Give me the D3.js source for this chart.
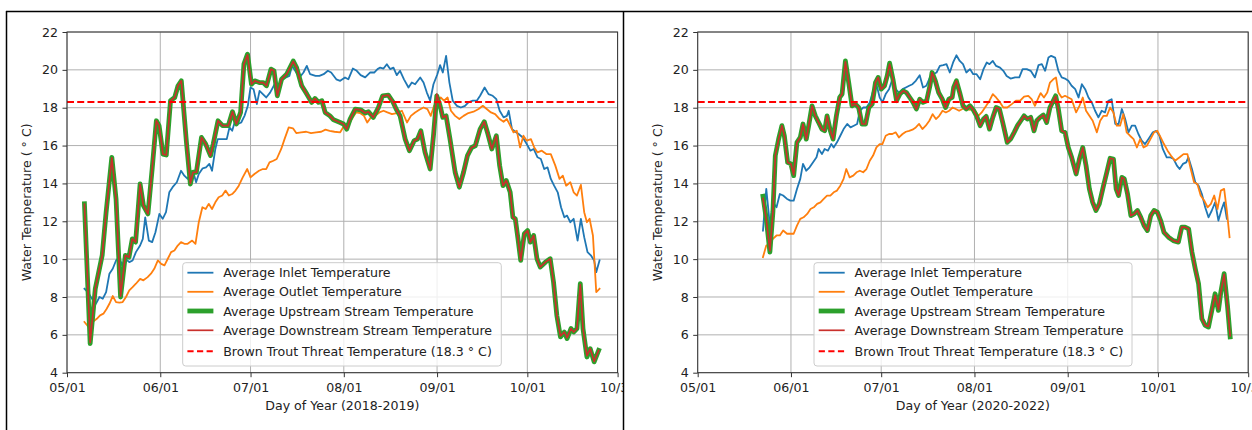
<!DOCTYPE html>
<html><head><meta charset="utf-8">
<script src="https://cdn.jsdelivr.net/npm/d3@7/dist/d3.min.js"></script>
<style>body{margin:0;background:#fff;overflow:hidden} text{font-family:"DejaVu Sans",sans-serif;fill:#222}</style>
</head><body><svg id="c" width="1252" height="430"></svg>
<script>
// ---- data (day offsets since May 1, temperature in °C) ----
const xTickDays = [0, 31, 61, 92, 123, 153, 183];
const xTickLabels = ["05/01", "06/01", "07/01", "08/01", "09/01", "10/01", "10/31"];
const yTicks = [4, 6, 8, 10, 12, 14, 16, 18, 20, 22];
const threshold = 18.3;
const xAxisLabels = ["Day of Year (2018-2019)", "Day of Year (2020-2022)"];
const yAxisLabel = "Water Temperature ( ° C)";
const legendLabels = ["Average Inlet Temperature", "Average Outlet Temperature", "Average Upstream Stream Temperature", "Average Downstream Stream Temperature", "Brown Trout Threat Temperature (18.3 ° C)"];

const inlet1 = [[5.8,8.44],[6.9,8.26],[8.3,7.91],[9.6,7.64],[10.8,8.0],[11.9,7.91],[13,8.26],[14.1,9.23],[15.2,9.49],[16.3,9.93],[17.4,10.1],[18.3,9.67],[19.4,10.02],[20.7,9.84],[21.8,9.93],[22.9,10.37],[24.3,10.72],[25.2,11.07],[26,12.21],[27.2,10.98],[28.3,10.9],[29.4,11.42],[30.7,12.39],[31.8,12.13],[32.9,12.48],[34,13.53],[35.1,13.8],[36.5,14.06],[37.9,14.67],[39,14.41],[40.1,14.24],[41.2,14.59],[42,14.59],[42.9,14.06],[43.8,14.5],[45.1,14.8],[46.2,14.85],[47.3,15.03],[48.2,14.67],[49.3,15.82],[50.1,16.34],[51.8,16.34],[53.1,16.34],[54,16.96],[54.9,16.78],[55.7,17.22],[56.8,17.14],[57.9,17.22],[59,17.57],[60.1,18.1],[61,19.07],[62,18.98],[63.1,18.19],[64,18.89],[65.1,18.72],[66.2,18.54],[67.5,18.8],[69,19.24],[70.1,19.07],[71.2,19.5],[72.8,19.6],[73.9,19.68],[74.8,20.21],[76.2,19.86],[77.3,19.6],[78.6,19.86],[79.7,20.21],[80.8,19.77],[82.6,19.68],[83.9,19.68],[85.3,19.77],[86.7,19.95],[87.8,19.86],[89.5,19.5],[90.8,19.42],[92.4,19.6],[93.5,19.5],[95,20.07],[96.3,19.95],[97.6,19.72],[99.1,19.6],[100.7,19.86],[102.1,19.86],[103.2,20.04],[104.1,20.12],[105.2,20.07],[106.3,20.3],[107.4,20.04],[108.5,20.12],[109.6,19.72],[110.7,19.95],[112,19.5],[113.5,19.07],[114.6,19.33],[115.7,19.24],[117.4,19.6],[118.5,19.33],[119.6,18.8],[120.7,18.37],[121.8,19.24],[123.1,19.77],[124,20.25],[124.9,19.86],[126,20.74],[127.1,19.33],[128.2,18.37],[129.6,18.1],[130.9,18.01],[132.3,18.1],[133.4,18.28],[134.9,18.37],[136.2,18.37],[137.3,18.63],[138.8,19.07],[140.1,18.72],[141.5,18.63],[142.7,18.45],[143.8,17.84],[145.1,17.49],[146.2,17.57],[146.8,17.84],[147.9,16.87],[149,16.73],[150.1,16.61],[151.5,16.43],[152.8,16.08],[154,15.73],[155.1,15.82],[156.4,15.38],[157.5,15.29],[158.6,14.76],[159.7,14.85],[160.8,14.24],[161.9,13.88],[163.1,13.53],[164.2,12.74],[165.3,12.21],[166.2,12.3],[167.3,11.95],[168.4,12.13],[169.7,10.98],[170.8,12.13],[171.9,11.16],[173,10.37],[174.1,10.2],[175.2,9.93],[175.9,9.31],[177,9.93]];
const outlet1 = [[5.8,6.68],[7.2,6.41],[8.5,6.68],[9.9,6.85],[11,7.03],[12.1,7.12],[13.2,7.38],[14.1,7.64],[15.2,8.05],[16.3,7.73],[17.4,7.7],[18.5,7.73],[19.6,8.0],[20.7,8.35],[21.8,8.52],[22.9,8.7],[24.3,8.96],[25.4,8.88],[26.8,9.05],[27.9,9.23],[29,9.49],[30.2,9.93],[31.3,9.75],[32.4,9.67],[33.5,10.02],[34.6,10.37],[35.7,10.46],[36.8,10.72],[37.9,10.9],[39,10.81],[40.1,10.81],[41.6,10.98],[42.7,10.81],[43.8,11.95],[45,12.74],[46.1,12.65],[47.1,12.92],[48.2,12.65],[49.3,13.0],[50.4,13.27],[51.6,13.36],[52.7,13.62],[53.8,13.36],[54.9,13.44],[56,13.62],[57.1,13.88],[58.4,14.32],[59.9,14.76],[61,14.32],[62.3,14.5],[63.8,14.67],[65.1,14.76],[66.2,14.76],[67.3,15.11],[68.6,15.2],[69.7,15.29],[71.2,15.82],[72.3,16.34],[73.7,16.96],[75.1,16.91],[76.2,16.66],[77.8,16.7],[79.5,16.73],[81.1,16.66],[82.8,16.7],[84.5,16.73],[85.9,16.84],[87.3,16.78],[88.9,16.73],[90.8,16.7],[92.1,17.05],[93.5,17.05],[95,17.49],[96.1,17.75],[97.4,17.72],[98.7,17.57],[99.8,17.22],[101,17.49],[102.4,17.57],[103.8,17.75],[105.2,17.84],[106.5,17.75],[108,17.66],[109.6,17.72],[111.3,17.84],[113,17.22],[114.3,17.57],[115.7,17.75],[117.1,17.89],[118.5,18.01],[119.8,17.93],[120.9,17.57],[122,18.1],[123.1,18.37],[124.2,18.54],[125.3,18.37],[126.5,18.54],[127.6,17.84],[129,17.57],[130.4,17.4],[131.8,17.57],[133.4,17.72],[135.1,17.79],[136.8,17.93],[138.2,18.1],[139.5,17.93],[140.9,17.75],[142.3,17.66],[143.8,17.4],[145.1,17.26],[146.2,17.4],[147.3,17.05],[148.4,16.7],[149.5,16.78],[150.6,15.9],[151.7,16.52],[152.8,16.26],[154.2,16.34],[155.3,15.9],[156.4,15.64],[157.8,15.73],[159.3,15.55],[160.8,15.55],[162.3,14.94],[163.7,14.24],[164.8,14.41],[165.9,13.88],[167.3,14.06],[168.4,13.53],[169.5,13.36],[170.8,13.92],[171.9,12.48],[172.8,11.95],[173.7,12.13],[174.8,11.25],[175.9,8.26],[177,8.44]];
const upstream1 = [[5.8,12.92],[7.7,5.54],[9.4,8.44],[11.7,10.2],[13,12.48],[14.9,15.38],[16.3,13.18],[17.8,8.0],[19.4,10.2],[20.6,10.1],[21.7,11.07],[22.8,10.9],[24.3,13.97],[25.4,12.83],[26.9,12.39],[28.3,14.76],[29.7,17.31],[30.6,17.05],[31.9,15.55],[33,15.5],[34.4,18.37],[35.8,18.54],[36.9,19.16],[38,19.42],[39.7,16.17],[41,13.97],[41.9,14.59],[43,14.59],[44.7,16.43],[46.1,16.08],[47.7,15.47],[48.6,16.08],[50.2,17.31],[51.7,17.05],[53.6,17.05],[55,17.79],[56.3,17.14],[57.7,17.75],[58.8,20.3],[60,20.83],[61.3,19.24],[62.4,19.42],[63.9,19.33],[65.2,19.33],[66.3,19.16],[67.8,20.04],[68.8,19.95],[69.9,18.63],[71.3,19.5],[73,19.77],[75.2,20.47],[76.3,20.12],[78,19.16],[79.7,18.72],[81.3,18.28],[82.4,18.49],[83.6,18.28],[84.7,18.37],[85.8,17.75],[87.4,17.57],[88.6,17.36],[90.8,17.22],[91.9,17.14],[93,16.87],[94.1,17.4],[95.8,17.93],[97.6,17.89],[99.1,17.72],[100.2,17.79],[101.8,17.49],[103.5,18.01],[104.9,18.63],[106.8,18.66],[108.3,18.31],[109.4,17.93],[110.7,17.57],[112.4,16.34],[113.8,15.73],[115.4,16.26],[116.5,16.34],[117.6,16.78],[119,15.64],[120.7,14.76],[121.8,16.52],[122.9,18.63],[124,18.1],[124.9,17.49],[126,17.57],[127.3,16.34],[129,14.59],[130.4,13.8],[131.8,14.59],[133.1,15.47],[134.5,15.9],[135.7,15.99],[137.3,16.87],[138.7,17.26],[139.9,16.61],[141.2,15.82],[142.7,16.52],[143.8,14.94],[144.9,13.88],[146,14.15],[147.3,13.53],[148.2,12.21],[149,12.13],[149.9,11.07],[150.8,9.93],[152,11.34],[153.1,11.51],[154,10.9],[155.1,11.25],[156.2,10.02],[157.3,9.58],[159,9.84],[160.6,10.02],[161.7,8.79],[162.8,7.03],[164,5.89],[165.3,6.15],[166.2,5.8],[167.5,6.33],[168.4,6.15],[169.5,6.33],[170.6,8.7],[171.5,6.33],[172.8,4.83],[173.9,5.27],[175.2,4.57],[176.7,5.18]];
const downstream1 = [[5.8,12.9],[7.7,5.6],[9.4,8.44],[11.7,10.2],[13,12.48],[14.9,15.35],[16.3,13.18],[17.8,8.05],[19.4,10.2],[20.6,10.1],[21.7,11.07],[22.8,10.9],[24.3,13.97],[25.4,12.83],[26.9,12.39],[28.3,14.76],[29.7,17.31],[30.6,17.05],[31.9,15.55],[33,15.5],[34.4,18.37],[35.8,18.54],[36.9,19.16],[38,19.42],[39.7,16.17],[41,14.0],[41.9,14.59],[43,14.59],[44.7,16.43],[46.1,16.08],[47.7,15.47],[48.6,16.08],[50.2,17.31],[51.7,17.05],[53.6,17.05],[55,17.79],[56.3,17.14],[57.7,17.75],[58.8,20.3],[60,20.8],[61.3,19.24],[62.4,19.42],[63.9,19.33],[65.2,19.33],[66.3,19.16],[67.8,20.04],[68.8,19.95],[69.9,18.63],[71.3,19.5],[73,19.77],[75.2,20.45],[76.3,20.12],[78,19.16],[79.7,18.72],[81.3,18.28],[82.4,18.49],[83.6,18.28],[84.7,18.37],[85.8,17.75],[87.4,17.57],[88.6,17.36],[90.8,17.22],[91.9,17.14],[93,16.87],[94.1,17.4],[95.8,17.93],[97.6,17.89],[99.1,17.72],[100.2,17.79],[101.8,17.49],[103.5,18.01],[104.9,18.63],[106.8,18.66],[108.3,18.31],[109.4,17.93],[110.7,17.57],[112.4,16.34],[113.8,15.73],[115.4,16.26],[116.5,16.34],[117.6,16.78],[119,15.64],[120.7,14.76],[121.8,16.52],[122.9,18.72],[124,18.1],[124.9,17.49],[126,17.57],[127.3,16.34],[129,14.59],[130.4,13.8],[131.8,14.59],[133.1,15.47],[134.5,15.9],[135.7,15.99],[137.3,16.87],[138.7,17.26],[139.9,16.61],[141.2,15.82],[142.7,16.52],[143.8,14.94],[144.9,13.88],[146,14.15],[147.3,13.53],[148.2,12.21],[149,12.13],[149.9,11.07],[150.8,9.93],[152,11.34],[153.1,11.51],[154,10.9],[155.1,11.25],[156.2,10.02],[157.3,9.58],[159,9.84],[160.6,10.02],[161.7,8.79],[162.8,7.03],[164,5.95],[165.3,6.15],[166.2,5.85],[167.5,6.33],[168.4,6.15],[169.5,6.33],[170.6,8.65],[171.5,6.33],[172.8,4.9],[173.9,5.27],[175.2,4.6],[176.7,5.18]];

const inlet2 = [[21.7,11.51],[22.8,13.71],[24,11.77],[25,13.0],[26.2,12.74],[27.3,13.44],[28.4,13.36],[29.7,13.18],[30.8,13.09],[31.9,13.09],[33,13.71],[34.1,14.24],[35,15.03],[36.1,14.67],[37.2,14.85],[38.3,15.11],[39.5,15.38],[40.2,15.82],[41.3,15.55],[42.2,15.82],[43.3,15.73],[44.4,16.08],[45.2,15.9],[46.3,16.17],[47.4,16.52],[48.5,16.87],[49.7,17.14],[50.8,16.96],[51.9,17.05],[53,17.14],[53.9,17.84],[55,18.01],[56.1,18.01],[57.2,18.28],[58.3,18.89],[59.4,19.24],[60.5,18.54],[61.4,18.28],[62.5,18.72],[63.6,18.98],[64.7,19.5],[65.8,18.98],[66.9,18.8],[68.1,18.98],[69.2,19.07],[70.3,19.16],[71.4,19.24],[72.5,19.42],[73.8,19.72],[74.9,19.07],[76,19.16],[77.2,19.6],[78.3,19.77],[79.4,19.86],[80.5,20.21],[81.6,20.25],[82.7,20.3],[83.8,19.86],[84.9,20.39],[86,20.77],[87.1,20.47],[88.2,20.3],[89.3,19.86],[90.5,20.04],[91.6,19.77],[92.7,19.77],[93.9,19.5],[95,20.04],[96.1,20.39],[97,20.3],[98.1,20.47],[99.2,20.21],[100.5,20.12],[101.6,19.95],[102.7,19.68],[104,19.54],[105.5,19.6],[106.9,19.6],[108,20.04],[109.4,20.04],[110.7,19.95],[112.1,19.6],[113.3,20.25],[114.4,20.3],[115.5,19.95],[116.6,20.65],[117.5,20.74],[118.8,20.65],[119.9,19.95],[121,19.6],[122.1,19.54],[123.2,19.42],[124.3,19.16],[125.5,18.98],[126.6,18.54],[127.7,19.24],[128.8,18.98],[129.9,18.54],[131,18.28],[132.1,17.84],[133.2,17.49],[134.3,17.84],[135.4,17.75],[136.5,18.37],[137.6,18.45],[138.8,17.14],[139.9,17.14],[141,17.93],[142.1,17.4],[143.2,16.7],[144.3,17.05],[145.4,17.05],[146.5,16.61],[147.6,16.26],[148.7,16.08],[149.8,16.34],[151.3,16.7],[152.4,16.78],[153.5,16.52],[154.6,15.82],[155.9,15.38],[157,15.38],[158.2,15.29],[159.3,14.94],[160.2,14.76],[161.3,15.03],[162.4,15.11],[163.1,15.38],[164.3,14.76],[165.4,14.06],[166.5,13.88],[167.6,13.44],[168.7,12.74],[169.8,12.21],[170.9,12.57],[172,13.0],[173.1,12.04],[174.2,12.65],[175,13.0],[175.9,12.13]];
const outlet2 = [[21.7,10.11],[22.8,10.72],[24,10.81],[25,11.07],[26.2,11.25],[27.3,11.25],[28.4,11.51],[29.7,11.34],[30.8,11.34],[31.9,11.34],[33,11.77],[34.1,12.13],[35.2,12.21],[36.4,12.39],[37.5,12.65],[38.6,12.74],[39.7,12.92],[40.8,13.0],[41.9,13.18],[43,13.36],[44.1,13.36],[45.2,13.53],[46.3,13.62],[47.4,13.88],[48.5,14.24],[49.4,14.76],[50.5,14.32],[51.7,14.41],[52.8,14.59],[53.9,14.67],[55,14.59],[56.1,14.76],[57.2,15.2],[58.3,15.47],[59.4,15.9],[60.5,16.08],[61.4,16.08],[62.5,16.52],[63.6,16.61],[64.7,16.61],[65.8,16.7],[66.9,16.43],[68.1,16.61],[69.2,16.73],[70.3,16.78],[71.4,16.84],[72.5,16.96],[73.6,17.14],[74.7,16.87],[75.8,17.05],[77,17.31],[78.1,17.66],[79.2,17.4],[80.3,17.57],[81.4,17.84],[82.5,17.75],[83.6,17.84],[84.7,18.01],[85.8,17.93],[86.9,17.84],[88,17.93],[89.1,18.01],[90.2,17.89],[91.9,17.93],[93.3,17.57],[94.4,17.75],[95.9,18.1],[97,18.37],[98.1,18.72],[99.2,18.54],[100.5,18.28],[101.6,18.01],[102.9,18.01],[104.4,18.19],[105.8,18.37],[107.2,18.37],[108.5,18.59],[109.9,18.63],[111,18.45],[112.1,18.1],[113.3,18.54],[114,18.77],[115.1,18.54],[116.2,18.8],[117.1,19.33],[118.2,19.5],[119.1,19.6],[119.9,18.8],[121,18.54],[122.1,18.63],[123.2,18.54],[124.3,18.45],[125.8,17.75],[126.9,18.1],[128,18.54],[129.1,17.84],[130.2,17.57],[131.3,17.31],[132.7,16.7],[133.8,17.31],[134.9,17.57],[136,17.57],[137.1,18.01],[138.2,17.75],[139.3,17.05],[140.4,17.05],[141.5,17.66],[142.6,16.7],[143.7,16.52],[144.9,16.34],[146,15.9],[147.1,16.34],[148.2,15.9],[149.3,15.99],[150.5,16.34],[151.7,16.7],[152.8,16.78],[153.9,16.43],[155,16.08],[156.2,15.73],[157.3,15.47],[158.7,15.2],[160.2,15.38],[161.5,15.55],[162.8,15.55],[163.9,14.76],[165,14.06],[166.1,13.97],[167.2,13.36],[168.4,13.09],[169.5,12.74],[170.6,12.92],[171.7,13.36],[172.8,12.65],[173.9,13.62],[175,13.71],[175.9,12.57],[176.8,11.16]];
const upstream2 = [[21.7,13.32],[22.8,12.13],[24,10.37],[25,12.48],[25.8,15.47],[26.9,16.34],[28,17.05],[28.8,16.52],[29.9,15.11],[31,15.03],[31.9,14.41],[33,16.17],[34.1,16.43],[35,17.14],[36.1,16.34],[36.9,17.05],[38,18.1],[39.1,17.57],[40.2,17.22],[41.3,16.87],[42.2,16.78],[43,17.57],[44.1,16.78],[45,16.34],[46.1,17.57],[47.2,18.54],[48,18.72],[49.1,20.47],[50.2,19.33],[51.3,18.1],[52.4,18.19],[53.5,18.01],[54.6,17.14],[55.8,17.14],[56.9,18.01],[58,18.19],[59.1,19.33],[60,19.6],[61,18.98],[62.1,19.16],[63,19.68],[63.8,20.35],[65,19.42],[66.1,18.37],[67.2,18.72],[68.3,18.89],[69.4,18.8],[70.5,18.54],[71.6,18.28],[72.7,17.93],[73.8,18.45],[74.9,18.28],[76.1,18.37],[77.2,19.16],[77.9,19.86],[79,19.42],[80.1,18.8],[81.3,18.45],[82.4,18.01],[83.5,18.45],[84.6,18.54],[85.1,19.07],[86,19.42],[87.1,18.8],[88.2,18.1],[89.3,17.93],[90.5,18.1],[91.6,17.89],[92.7,17.57],[93.9,17.05],[95,17.4],[95.9,17.54],[97,16.87],[98.1,17.49],[99.2,18.01],[100.3,17.93],[101.4,17.22],[102.9,16.17],[104,16.34],[105.2,16.7],[106.3,17.05],[107.4,17.31],[108.5,17.57],[109.6,17.4],[110.7,17.49],[111.8,16.78],[112.7,17.31],[113.8,17.49],[114.9,17.61],[116,17.22],[117.1,18.01],[118.2,18.37],[119,18.63],[119.9,17.93],[121,16.78],[122.1,16.7],[123.2,15.9],[124.3,15.38],[125.8,14.5],[126.9,15.29],[128,15.9],[129.1,14.94],[130.2,13.71],[131.3,13.0],[132.4,12.57],[133.5,12.92],[134.9,13.88],[136,14.59],[137.1,15.33],[138.2,15.29],[139.1,13.71],[139.9,13.36],[141,14.32],[141.8,14.24],[142.9,13.44],[144,12.3],[145.1,12.39],[146.2,12.57],[147.3,12.21],[148.4,11.77],[149.5,11.51],[150.6,12.3],[151.7,12.57],[152.8,12.48],[153.9,12.04],[155,11.42],[156.5,11.16],[158.1,10.98],[159.8,10.9],[160.9,11.69],[162,11.69],[163.2,11.6],[164.3,10.37],[165.4,9.49],[166.5,8.7],[167.6,6.85],[168.7,6.5],[169.8,6.41],[170.9,7.29],[172,8.17],[173.1,7.29],[173.9,8.26],[175,9.23],[176.1,7.56],[177,5.89]];
const downstream2 = [[21.7,13.2],[22.8,12.1],[24,10.45],[25,12.48],[25.8,15.47],[26.9,16.34],[28,17.05],[28.8,16.52],[29.9,15.11],[31,15.03],[31.9,14.45],[33,16.17],[34.1,16.43],[35,17.14],[36.1,16.34],[36.9,17.05],[38,18.1],[39.1,17.57],[40.2,17.22],[41.3,16.87],[42.2,16.78],[43,17.57],[44.1,16.78],[45,16.34],[46.1,17.57],[47.2,18.54],[48,18.72],[49.1,20.42],[50.2,19.33],[51.3,18.1],[52.4,18.19],[53.5,18.01],[54.6,17.14],[55.8,17.14],[56.9,18.01],[58,18.19],[59.1,19.33],[60,19.6],[61,18.98],[62.1,19.16],[63,19.68],[63.8,20.3],[65,19.42],[66.1,18.37],[67.2,18.72],[68.3,18.89],[69.4,18.8],[70.5,18.54],[71.6,18.28],[72.7,17.93],[73.8,18.45],[74.9,18.28],[76.1,18.37],[77.2,19.16],[77.9,19.86],[79,19.42],[80.1,18.8],[81.3,18.45],[82.4,18.01],[83.5,18.45],[84.6,18.54],[85.1,19.07],[86,19.42],[87.1,18.8],[88.2,18.1],[89.3,17.93],[90.5,18.1],[91.6,17.89],[92.7,17.57],[93.9,17.05],[95,17.4],[95.9,17.54],[97,16.87],[98.1,17.49],[99.2,18.01],[100.3,17.93],[101.4,17.22],[102.9,16.17],[104,16.34],[105.2,16.7],[106.3,17.05],[107.4,17.31],[108.5,17.57],[109.6,17.4],[110.7,17.49],[111.8,16.78],[112.7,17.31],[113.8,17.49],[114.9,17.61],[116,17.22],[117.1,18.01],[118.2,18.37],[119,18.6],[119.9,17.93],[121,16.78],[122.1,16.7],[123.2,15.9],[124.3,15.38],[125.8,14.5],[126.9,15.29],[128,15.9],[129.1,14.94],[130.2,13.71],[131.3,13.0],[132.4,12.57],[133.5,12.92],[134.9,13.88],[136,14.59],[137.1,15.33],[138.2,15.29],[139.1,13.71],[139.9,13.36],[141,14.32],[141.8,14.24],[142.9,13.44],[144,12.3],[145.1,12.39],[146.2,12.57],[147.3,12.21],[148.4,11.77],[149.5,11.51],[150.6,12.3],[151.7,12.57],[152.8,12.48],[153.9,12.04],[155,11.42],[156.5,11.16],[158.1,10.98],[159.8,10.9],[160.9,11.69],[162,11.69],[163.2,11.6],[164.3,10.37],[165.4,9.49],[166.5,8.7],[167.6,6.85],[168.7,6.5],[169.8,6.45],[170.9,7.29],[172,8.1],[173.1,7.35],[173.9,8.26],[175,9.2],[176.1,7.56],[177,5.95]];

// ---- rendering ----
const svg = d3.select("#c");
const styles = [
  {color:"#1f77b4", w:1.8},
  {color:"#ff7f0e", w:1.8},
  {color:"#2ca02c", w:4.8},
  {color:"#c9302c", w:1.7}
];
const panels = [
  {x0:67, x1:617.6, ylabX:27, xlab:xAxisLabels[0], series:[inlet1,outlet1,upstream1,downstream1], leg:{x:182.7, w:318.6}},
  {x0:697.7, x1:1248.2, ylabX:657.5, xlab:xAxisLabels[1], series:[inlet2,outlet2,upstream2,downstream2], leg:{x:814, w:318}}
];
const yTop = 32, yBot = 372.7;
const FS = 12.6;

panels.forEach((p, i) => {
  const g = svg.append("g");
  if (i === 1) {
    g.append("rect").attr("x", 623.5).attr("y", 11).attr("width", 640).attr("height", 430).attr("fill", "#fff");
  }
  const x = d3.scaleLinear().domain([0, 183]).range([p.x0, p.x1]);
  const y = d3.scaleLinear().domain([4, 22]).range([yBot, yTop]);

  // grid
  g.append("g").selectAll("line").data(xTickDays).join("line")
    .attr("x1", d => x(d)).attr("x2", d => x(d)).attr("y1", yTop).attr("y2", yBot)
    .attr("stroke", "#b0b0b0").attr("stroke-width", 1);
  g.append("g").selectAll("line").data(yTicks).join("line")
    .attr("x1", p.x0).attr("x2", p.x1).attr("y1", d => y(d)).attr("y2", d => y(d))
    .attr("stroke", "#b0b0b0").attr("stroke-width", 1);

  // series
  const line = d3.line().x(d => x(d[0])).y(d => y(d[1]));
  p.series.forEach((s, k) => {
    g.append("path").attr("d", line(s)).attr("fill", "none")
      .attr("stroke", styles[k].color).attr("stroke-width", styles[k].w)
      .attr("stroke-linejoin", "round").attr("stroke-linecap", "square");
  });
  // threshold
  g.append("line").attr("x1", p.x0).attr("x2", p.x1).attr("y1", y(threshold)).attr("y2", y(threshold))
    .attr("stroke", "#ff0000").attr("stroke-width", 2).attr("stroke-dasharray", "7,3.2");

  // spines
  g.append("rect").attr("x", p.x0).attr("y", yTop).attr("width", p.x1 - p.x0).attr("height", yBot - yTop)
    .attr("fill", "none").attr("stroke", "#333").attr("stroke-width", 1);

  // x axis ticks
  const xa = d3.axisBottom(x).tickValues(xTickDays).tickFormat((d, j) => xTickLabels[j]).tickSize(4.5).tickPadding(6);
  const gx = g.append("g").attr("transform", `translate(0,${yBot})`).call(xa);
  gx.select(".domain").remove();
  gx.selectAll("line").attr("stroke", "#333");
  gx.selectAll("text").attr("font-size", FS).attr("font-family", "DejaVu Sans").attr("fill", "#222");
  const ya = d3.axisLeft(y).tickValues(yTicks).tickFormat(d3.format("d")).tickSize(4.5).tickPadding(4.5);
  const gy = g.append("g").attr("transform", `translate(${p.x0},0)`).call(ya);
  gy.select(".domain").remove();
  gy.selectAll("line").attr("stroke", "#333");
  gy.selectAll("text").attr("font-size", FS).attr("font-family", "DejaVu Sans").attr("fill", "#222");

  // axis labels
  g.append("text").attr("x", (p.x0 + p.x1) / 2).attr("y", 409.5).attr("text-anchor", "middle")
    .attr("font-size", FS).text(p.xlab);
  g.append("text").attr("transform", `translate(${p.ylabX + 4.4},${(yTop + yBot) / 2}) rotate(-90)`)
    .attr("text-anchor", "middle").attr("font-size", FS).text(yAxisLabel);

  // legend
  const L = g.append("g");
  L.append("rect").attr("x", p.leg.x).attr("y", 262.7).attr("width", p.leg.w).attr("height", 103.3)
    .attr("rx", 3).attr("fill", "#fff").attr("fill-opacity", 0.8).attr("stroke", "#cccccc").attr("stroke-width", 1);
  const rows = [272.7, 291.8, 311, 330.3, 351.2];
  legendLabels.forEach((lab, k) => {
    const ly = rows[k];
    const hx0 = p.leg.x + 4.7, hx1 = p.leg.x + 30.7;
    const ln = L.append("line").attr("x1", hx0).attr("x2", hx1).attr("y1", ly).attr("y2", ly);
    if (k < 4) ln.attr("stroke", styles[k].color).attr("stroke-width", styles[k].w);
    else ln.attr("stroke", "#ff0000").attr("stroke-width", 2).attr("stroke-dasharray", "6.2,3.4");
    L.append("text").attr("x", p.leg.x + 40.5).attr("y", ly + 4.5).attr("font-size", FS).text(lab);
  });
});

// outer frame lines
const frame = [[6.5,11,6.5,430],[6,11.5,1252,11.5],[623.5,11,623.5,430]];
svg.append("g").selectAll("line").data(frame).join("line")
  .attr("x1", d => d[0]).attr("y1", d => d[1]).attr("x2", d => d[2]).attr("y2", d => d[3])
  .attr("stroke", "#000").attr("stroke-width", 1.5);
</script></body></html>
